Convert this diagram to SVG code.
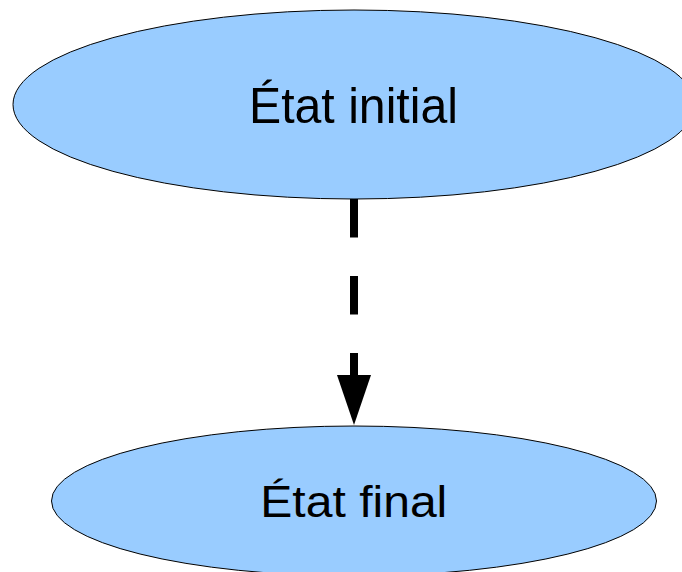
<svg xmlns="http://www.w3.org/2000/svg" width="682" height="572" viewBox="0 0 682 572">
<style>
.node ellipse{fill:#99ccff;stroke:#000;stroke-width:1}
.node text{font-family:"Liberation Sans",Arial,sans-serif;fill:#000;text-anchor:middle}
.edge line{stroke:#000;stroke-width:8;stroke-dasharray:38.5 38.5}
.edge polygon{fill:#000}
</style>
<rect width="682" height="572" fill="#fff"/>
<g id="node-initial" class="node">
<ellipse cx="354" cy="104.5" rx="341" ry="94.5"/>
<text x="353.5" y="122.7" font-size="50" textLength="209" lengthAdjust="spacingAndGlyphs">État initial</text>
</g>
<g id="node-final" class="node">
<ellipse cx="354" cy="501" rx="302.5" ry="75"/>
<text x="353.8" y="516.7" font-size="45" textLength="187" lengthAdjust="spacingAndGlyphs">État final</text>
</g>
<g id="connectors" class="edge">
<line x1="354" y1="199" x2="354" y2="376"/>
<polygon points="337,375 371,375 354,425"/>
</g>
</svg>
